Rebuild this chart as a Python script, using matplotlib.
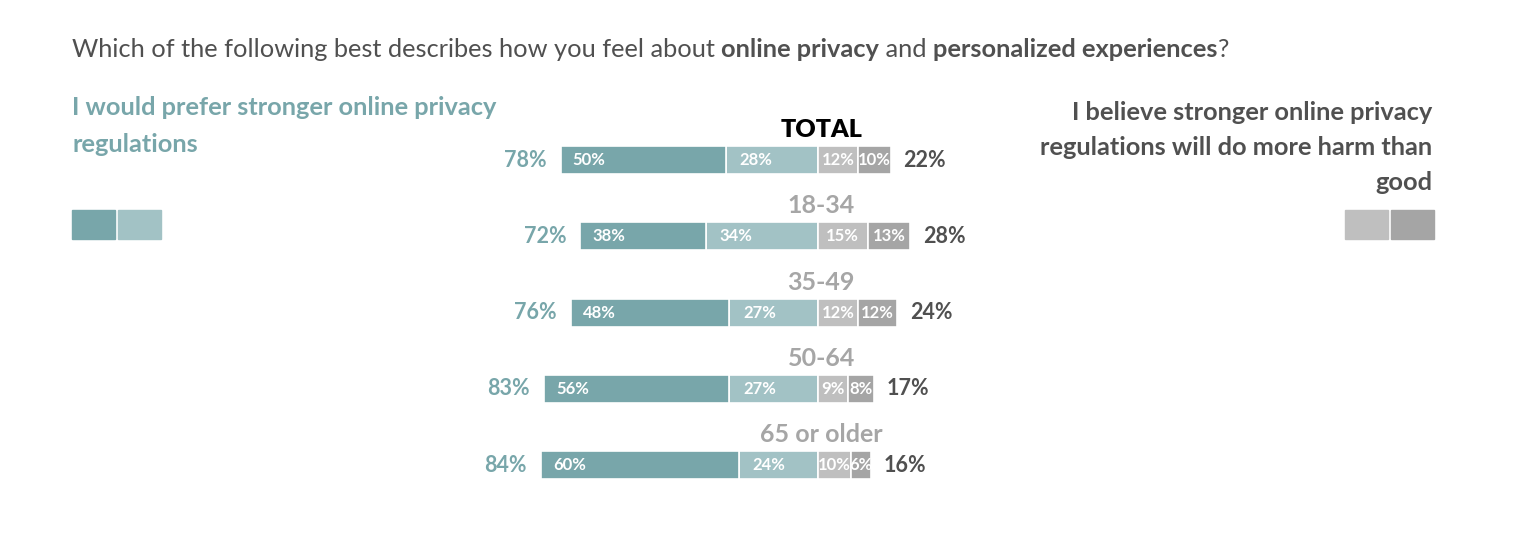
import matplotlib
matplotlib.use("Agg")
import matplotlib.pyplot as plt
from matplotlib.patches import Rectangle

plt.rcParams['font.family'] = ['Lato', 'DejaVu Sans']

# data
groups = ['TOTAL', '18-34', '35-49', '50-64', '65 or older']
prefer_strong = [50, 38, 48, 56, 60]
prefer_some = [28, 34, 27, 27, 24]
harm_some = [12, 15, 12, 9, 10]
harm_strong = [10, 13, 12, 8, 6]
prefer_total = [78, 72, 76, 83, 84]
harm_total = [22, 28, 24, 17, 16]

left_head = ['I would prefer stronger online privacy', 'regulations']
right_head = ['I believe stronger online privacy', 'regulations will do more harm than', 'good']

TEAL_DARK = '#78a6aa'
TEAL_LIGHT = '#a2c2c5'
GRAY_LIGHT = '#bfbfbf'
GRAY_DARK = '#a5a5a5'
TEXT_DARK = '#505050'

W, H = 1516, 541
fig = plt.figure(figsize=(W / 100, H / 100), dpi=100)
ax = fig.add_axes([0, 0, 1, 1])

# x in percent, centre at pixel 818, 3.3 px per percent
PX = 3.3
ax.set_xlim(-818 / PX, (W - 818) / PX)
# y in rows, first row at pixel 160, 76.25 px per row
RY = 76.25
ax.set_ylim((H - 160) / RY, -160 / RY)
ax.axis('off')

bh = 28 / RY
ys = list(range(len(groups)))

def fx(x):
    return x / W

def fy(y):
    return 1 - y / H

for i in ys:
    s, m = prefer_strong[i], prefer_some[i]
    hs, hh = harm_some[i], harm_strong[i]
    ax.barh(i, -m, height=bh, color=TEAL_LIGHT, edgecolor='white', linewidth=1.2)
    ax.barh(i, -s, left=-m, height=bh, color=TEAL_DARK, edgecolor='white', linewidth=1.2)
    ax.barh(i, hs, height=bh, color=GRAY_LIGHT, edgecolor='white', linewidth=1.2)
    ax.barh(i, hh, left=hs, height=bh, color=GRAY_DARK, edgecolor='white', linewidth=1.2)

    # inside labels
    ax.text(-(s + m) + 12 / PX, i, f'{s}%', color='white', fontsize=12,
            ha='left', va='center', fontweight='bold')
    ax.text(-m + 14 / PX, i, f'{m}%', color='white', fontsize=12,
            ha='left', va='center', fontweight='bold')
    ax.text(hs / 2, i, f'{hs}%', color='white', fontsize=12,
            ha='center', va='center', fontweight='bold')
    ax.text(hs + hh / 2, i, f'{hh}%', color='white', fontsize=12,
            ha='center', va='center', fontweight='bold')

    # totals
    ax.text(-(s + m) - 14 / PX, i, f'{prefer_total[i]}%', color=TEAL_DARK,
            fontsize=15.5, fontweight='bold', ha='right', va='center')
    ax.text(hs + hh + 13 / PX, i, f'{harm_total[i]}%', color=TEXT_DARK,
            fontsize=15.5, fontweight='bold', ha='left', va='center')

    # group label above bar
    ax.text(1, i - 23 / RY, groups[i], color='black' if i == 0 else '#a6a6a6',
            fontsize=18, fontweight='bold' if i else 'heavy', ha='center', va='baseline')

# title with bold fragments
parts = [('Which of the following best describes how you feel about ', 'normal'),
         ('online privacy', 'bold'),
         (' and ', 'normal'),
         ('personalized experiences', 'bold'),
         ('?', 'normal')]
t = fig.text(fx(72), fy(57), parts[0][0], fontsize=18.3, color=TEXT_DARK,
             fontweight=parts[0][1], va='baseline', ha='left')
for txt, wgt in parts[1:]:
    t = ax.annotate(txt, xycoords=t, xy=(1, 0), va='bottom', ha='left',
                    fontsize=18.3, color=TEXT_DARK, fontweight=wgt)

# side headings
for k, line in enumerate(left_head):
    fig.text(fx(72), fy(115 + 37 * k), line, color=TEAL_DARK, fontsize=18.3,
             fontweight='bold', ha='left', va='baseline')
for k, line in enumerate(right_head):
    fig.text(fx(1432), fy(120 + 35 * k), line, color=TEXT_DARK, fontsize=18.3,
             fontweight='bold', ha='right', va='baseline')

# legend swatches
for x0, c in [(72, TEAL_DARK), (118, TEAL_LIGHT), (1345, GRAY_LIGHT), (1391, GRAY_DARK)]:
    fig.patches.append(Rectangle((fx(x0), fy(239)), 43 / W, 29 / H,
                                 transform=fig.transFigure, color=c))

fig.savefig('out.png', dpi=100)
